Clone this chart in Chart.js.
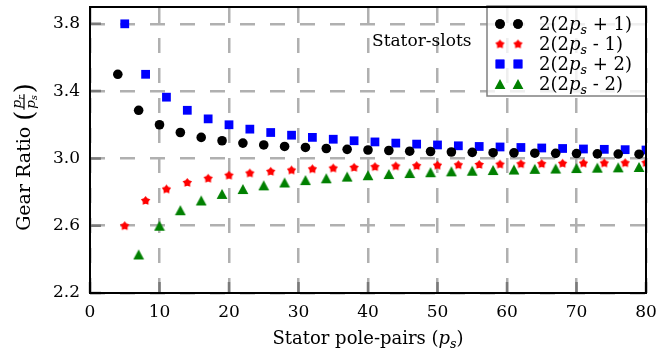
<!DOCTYPE html>
<html>
<head>
<meta charset="utf-8">
<script src="https://cdn.jsdelivr.net/npm/chart.js@4/dist/chart.umd.min.js"></script>
<style>
    html, body { margin: 0; padding: 0; background: #fff; }
</style>
</head>
<body>
<canvas id="chart" width="665" height="353"></canvas>
<script>
// tick labels
const x_ticks = [0, 10, 20, 30, 40, 50, 60, 70, 80]
const y_ticks = [2.2, 2.6, 3.0, 3.4, 3.8]

// stator pole-pairs for each slot rule
const ps_plus1 = [4, 7, 10, 13, 16, 19, 22, 25, 28, 31, 34, 37, 40, 43, 46, 49, 52, 55, 58, 61, 64, 67, 70, 73, 76, 79]
const ps_minus1 = [5, 8, 11, 14, 17, 20, 23, 26, 29, 32, 35, 38, 41, 44, 47, 50, 53, 56, 59, 62, 65, 68, 71, 74, 77, 80]
const ps_plus2 = [5, 8, 11, 14, 17, 20, 23, 26, 29, 32, 35, 38, 41, 44, 47, 50, 53, 56, 59, 62, 65, 68, 71, 74, 77, 80]
const ps_minus2 = [7, 10, 13, 16, 19, 22, 25, 28, 31, 34, 37, 40, 43, 46, 49, 52, 55, 58, 61, 64, 67, 70, 73, 76, 79]

// gear ratio pr/ps
const ratio_plus1 = [3.5, 3.286, 3.2, 3.154, 3.125, 3.105, 3.091, 3.08, 3.071, 3.065, 3.059, 3.054, 3.05, 3.047, 3.043, 3.041, 3.038, 3.036, 3.034, 3.033, 3.031, 3.03, 3.029, 3.027, 3.026, 3.025]
const ratio_minus1 = [2.6, 2.75, 2.818, 2.857, 2.882, 2.9, 2.913, 2.923, 2.931, 2.938, 2.943, 2.947, 2.951, 2.955, 2.957, 2.96, 2.962, 2.964, 2.966, 2.968, 2.969, 2.971, 2.972, 2.973, 2.974, 2.975]
const ratio_plus2 = [3.8, 3.5, 3.364, 3.286, 3.235, 3.2, 3.174, 3.154, 3.138, 3.125, 3.114, 3.105, 3.098, 3.091, 3.085, 3.08, 3.075, 3.071, 3.068, 3.065, 3.062, 3.059, 3.056, 3.054, 3.052, 3.05]
const ratio_minus2 = [2.429, 2.6, 2.692, 2.75, 2.789, 2.818, 2.84, 2.857, 2.871, 2.882, 2.892, 2.9, 2.907, 2.913, 2.918, 2.923, 2.927, 2.931, 2.934, 2.938, 2.94, 2.943, 2.945, 2.947, 2.949]

const series_labels = ['2(2p_s + 1)', '2(2p_s - 1)', '2(2p_s + 2)', '2(2p_s - 2)']
const annotation_text = 'Stator-slots'

const FONT = '"DejaVu Serif", "Liberation Serif", serif'

function to_points(xs, ys) {
    return xs.map((x, i) => ({ x: x, y: ys[i] }))
}

// small canvases used as point styles (filled star and matplotlib-like triangle)
function make_marker(size, color, draw) {
    const c = document.createElement('canvas')
    c.width = size
    c.height = size
    const g = c.getContext('2d')
    g.fillStyle = color
    g.beginPath()
    draw(g, size / 2)
    g.closePath()
    g.fill()
    return c
}

const star_marker = make_marker(11, '#ff0000', (g, c) => {
    const outer = 4.9, inner = 3.0
    for (let i = 0; i < 10; i++) {
        const r = i % 2 === 0 ? outer : inner
        const a = -Math.PI / 2 + i * Math.PI / 5
        const px = c + Math.cos(a) * r, py = c + 0.3 + Math.sin(a) * r
        if (i === 0) g.moveTo(px, py); else g.lineTo(px, py)
    }
})

const triangle_marker = make_marker(12, '#008000', (g, c) => {
    g.moveTo(c, c - 5)
    g.lineTo(c + 5.4, c + 5)
    g.lineTo(c - 5.4, c + 5)
})

// "2(2p_s + 1)" -> segments, a letter followed by _x gets italic and a subscript
function parse_label(str) {
    const parts = []
    const re = /([a-z])_([a-z])/g
    let last = 0
    let m
    while ((m = re.exec(str)) !== null) {
        if (m.index > last) parts.push({ t: str.slice(last, m.index) })
        parts.push({ t: m[1], it: true })
        parts.push({ t: m[2], it: true, sub: true })
        last = re.lastIndex
    }
    if (last < str.length) parts.push({ t: str.slice(last) })
    return parts
}

function seg_font(seg, size) {
    const s = seg.sub ? size * 0.7 : size
    return (seg.it ? 'italic ' : '') + s + 'px ' + FONT
}

function rich_width(ctx, parts, size) {
    let w = 0
    for (const p of parts) {
        ctx.font = seg_font(p, size)
        w += ctx.measureText(p.t).width
    }
    return w
}

function draw_rich(ctx, parts, x, y, size) {
    ctx.textAlign = 'left'
    ctx.textBaseline = 'alphabetic'
    for (const p of parts) {
        ctx.font = seg_font(p, size)
        ctx.fillText(p.t, x, p.sub ? y + size * 0.2 : y)
        x += ctx.measureText(p.t).width
    }
    return x
}

// inward tick marks, drawn under the points
const tick_plugin = {
    id: 'inner_ticks',
    beforeDatasetsDraw(chart) {
        const ctx = chart.ctx
        const area = chart.chartArea
        const xs = chart.scales.x
        const ys = chart.scales.y
        ctx.save()
        ctx.strokeStyle = '#7a7a7a'
        ctx.lineWidth = 2.5
        ctx.beginPath()
        for (const v of x_ticks) {
            const px = xs.getPixelForValue(v)
            ctx.moveTo(px, area.bottom)
            ctx.lineTo(px, area.bottom - 11)
        }
        for (const v of y_ticks) {
            const py = ys.getPixelForValue(v)
            ctx.moveTo(area.left, py)
            ctx.lineTo(area.left + 11, py)
        }
        ctx.stroke()
        ctx.restore()
    }
}

// frame, legend, annotation and axis titles
const decor_plugin = {
    id: 'decor',
    afterDraw(chart) {
        const ctx = chart.ctx
        const area = chart.chartArea
        ctx.save()
        ctx.fillStyle = '#000'

        // legend box
        const lx = 487, ly = area.top - 1, lw = area.right - 487, lh = 90
        ctx.fillStyle = 'rgba(255,255,255,0.8)'
        ctx.fillRect(lx, ly, lw, lh)
        ctx.strokeStyle = '#808080'
        ctx.lineWidth = 1.5
        ctx.strokeRect(lx, ly, lw, lh)
        chart.data.datasets.forEach((ds, i) => {
            const cy = 24 + i * 20
            for (const mx of [500, 518]) {
                if (typeof ds.pointStyle === 'string') {
                    ctx.fillStyle = ds.pointBackgroundColor
                    ctx.beginPath()
                    Chart.helpers.drawPoint(ctx, { pointStyle: ds.pointStyle, rotation: 0, radius: ds.pointRadius, borderWidth: 0 }, mx, cy)
                    ctx.fill()
                } else {
                    Chart.helpers.drawPoint(ctx, { pointStyle: ds.pointStyle, rotation: 0, radius: ds.pointRadius, borderWidth: 0 }, mx, cy)
                }
            }
            ctx.fillStyle = '#000'
            draw_rich(ctx, parse_label(ds.label), 539, cy + 6, 18)
        })

        // annotation
        ctx.fillStyle = '#000'
        ctx.font = '17px ' + FONT
        ctx.textAlign = 'left'
        ctx.textBaseline = 'alphabetic'
        ctx.fillText(annotation_text, 372, 46)

        // axes frame
        ctx.strokeStyle = '#000'
        ctx.lineWidth = 2
        ctx.strokeRect(area.left, area.top, area.right - area.left, area.bottom - area.top)

        // x title
        const x_parts = parse_label('Stator pole-pairs (p_s)')
        const size = 18
        const xw = rich_width(ctx, x_parts, size)
        ctx.fillStyle = '#000'
        draw_rich(ctx, x_parts, (area.left + area.right) / 2 - xw / 2, 344, size)

        // y title, rotated, with a fraction pr / ps
        const ysize = 19
        ctx.translate(30, 157)
        ctx.rotate(-Math.PI / 2)
        const head = [{ t: 'Gear Ratio ' }]
        const num = parse_label('p_r')
        const den = parse_label('p_s')
        const fs = 13.5
        const fw = Math.max(rich_width(ctx, num, fs), rich_width(ctx, den, fs)) + 2
        ctx.font = (ysize * 1.35) + 'px ' + FONT
        const pw = ctx.measureText('(').width
        const total = rich_width(ctx, head, ysize) + pw * 2 + fw + 2
        let cx = -total / 2
        cx = draw_rich(ctx, head, cx, 0, ysize)
        ctx.font = (ysize * 1.35) + 'px ' + FONT
        ctx.fillText('(', cx, 3)
        cx += pw + 1
        const axis_y = -6
        ctx.fillRect(cx, axis_y - 0.6, fw, 1.2)
        draw_rich(ctx, num, cx + (fw - rich_width(ctx, num, fs)) / 2, axis_y - 3, fs)
        draw_rich(ctx, den, cx + (fw - rich_width(ctx, den, fs)) / 2, axis_y + 10.5, fs)
        cx += fw + 1
        ctx.font = (ysize * 1.35) + 'px ' + FONT
        ctx.fillText(')', cx, 3)

        ctx.restore()
    }
}

const tick_font = { family: FONT, size: 17 }

new Chart(document.getElementById('chart'), {
    type: 'scatter',
    data: {
        datasets: [
            {
                label: series_labels[0],
                data: to_points(ps_plus1, ratio_plus1),
                pointStyle: 'circle',
                pointRadius: 4.8,
                pointBackgroundColor: '#000000',
                pointBorderWidth: 0
            },
            {
                label: series_labels[1],
                data: to_points(ps_minus1, ratio_minus1),
                pointStyle: star_marker,
                pointRadius: 5,
                pointBackgroundColor: '#ff0000',
                pointBorderWidth: 0
            },
            {
                label: series_labels[2],
                data: to_points(ps_plus2, ratio_plus2),
                pointStyle: 'rect',
                pointRadius: 6.2,
                pointBackgroundColor: '#0000ff',
                pointBorderWidth: 0
            },
            {
                label: series_labels[3],
                data: to_points(ps_minus2, ratio_minus2),
                pointStyle: triangle_marker,
                pointRadius: 6,
                pointBackgroundColor: '#008000',
                pointBorderWidth: 0
            }
        ]
    },
    options: {
        responsive: false,
        animation: false,
        events: [],
        layout: { padding: { top: 7, right: 19, left: 0, bottom: 0 } },
        plugins: {
            legend: { display: false },
            tooltip: { enabled: false }
        },
        scales: {
            x: {
                type: 'linear',
                min: 0,
                max: 80,
                afterBuildTicks: s => { s.ticks = x_ticks.map(v => ({ value: v })) },
                afterFit: s => { s.height = 60; s.paddingLeft = 0; s.paddingRight = 0 },
                grid: { color: '#b0b0b0', lineWidth: 2.5, drawTicks: false },
                border: { display: false, dash: [15, 15], dashOffset: 29 },
                ticks: { color: '#000', font: tick_font, padding: 9, maxRotation: 0, callback: v => String(v) }
            },
            y: {
                type: 'linear',
                min: 2.2,
                max: 3.9,
                afterBuildTicks: s => { s.ticks = y_ticks.map(v => ({ value: v })) },
                afterFit: s => { s.width = 90; s.paddingTop = 0; s.paddingBottom = 0 },
                grid: { color: '#b0b0b0', lineWidth: 2.5, drawTicks: false },
                border: { display: false, dash: [15, 15] },
                ticks: { color: '#000', font: tick_font, padding: 10, callback: v => Number(v).toFixed(1) }
            }
        }
    },
    plugins: [tick_plugin, decor_plugin]
})
</script>
</body>
</html>
